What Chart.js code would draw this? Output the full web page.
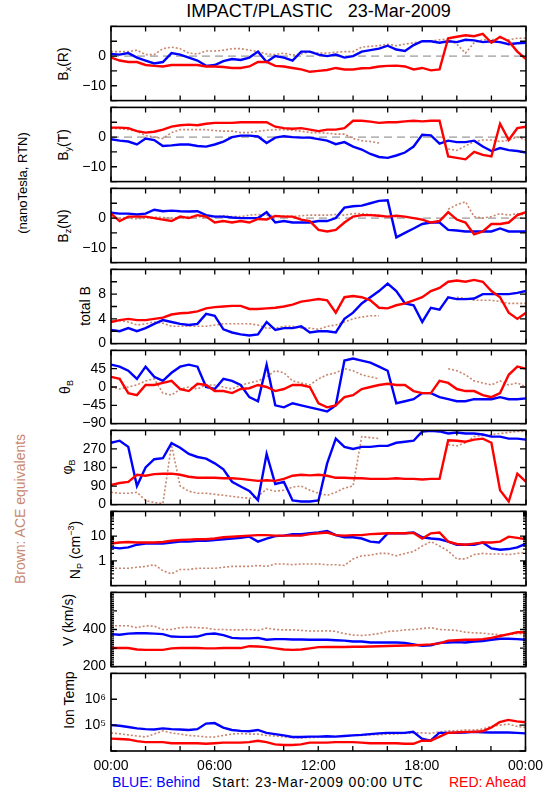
<!DOCTYPE html>
<html><head><meta charset="utf-8">
<script src="https://cdn.jsdelivr.net/npm/chart.js@4.4.1/dist/chart.umd.min.js"></script>
<style>
html,body{margin:0;padding:0;background:#fff;}
body{position:relative;width:550px;height:800px;overflow:hidden;font-family:"Liberation Sans",Arial,sans-serif;color:#000;}
canvas{position:absolute;left:0;}
.txt{position:absolute;white-space:pre;line-height:1;}
.rot{position:absolute;white-space:pre;line-height:1;font-size:14px;transform:translate(-50%,-50%) rotate(-90deg);}
.rot sub{font-size:9px;vertical-align:-3px;}
.rot sup{font-size:9px;vertical-align:6px;}
</style></head><body>
<div class="txt" style="left:0;width:637px;text-align:center;top:2px;font-size:18px;">IMPACT/PLASTIC   23-Mar-2009</div>

<div class="rot" style="left:64px;top:64px">B<sub>x</sub>(R)</div>
<div class="rot" style="left:64px;top:145px">B<sub>y</sub>(T)</div>
<div class="rot" style="left:64px;top:226px">B<sub>z</sub>(N)</div>
<div class="rot" style="left:85px;top:306px">total B</div>
<div class="rot" style="left:66px;top:387px">θ<sub>B</sub></div>
<div class="rot" style="left:68px;top:467px">φ<sub>B</sub></div>
<div class="rot" style="left:76px;top:550px">N<sub>P</sub> (cm<sup>−3</sup>)</div>
<div class="rot" style="left:68px;top:620px">V (km/s)</div>
<div class="rot" style="left:69px;top:700px">Ion Temp</div>
<div class="rot" style="left:22px;top:183px;font-size:13px">(nanoTesla, RTN)</div>
<div class="rot" style="left:20px;top:509px;color:#c8876e">Brown: ACE equivalents</div>

<div class="txt" style="left:112px;top:775px;font-size:14px;color:#0000ff">BLUE: Behind</div>
<div class="txt" style="left:212px;top:775px;font-size:14px;letter-spacing:0.8px">Start: 23-Mar-2009 00:00 UTC</div>
<div class="txt" style="left:376px;width:150px;text-align:right;top:775px;font-size:14px;color:#ff0000">RED: Ahead</div>

<script>
// ---------- data (hours since 23-Mar-2009 00:00 UTC) ----------
const hours = [0,0.5,1,1.5,2,2.5,3,3.5,4,4.5,5,5.5,6,6.5,7,7.5,8,8.5,9,9.5,10,10.5,11,11.5,12,12.5,13,13.5,14,14.5,15,15.5,16,16.5,17,17.5,18,18.5,19,19.5,20,20.5,21,21.5,22,22.5,23,23.5,24];

const bxBlue  = [0.7,0.5,1.0,-0.5,-1.5,-2.5,-2,1.0,0.5,-0.5,-1.5,-3.3,-3,-1.7,-1,-1.3,-0.5,1.5,-2, 0,-0.5,-1.5,1.5,1.5,0.5,0,0.5,-0.5,0,1.5,2,2.5,3.5,2.2,1.7,3.7,5,5,4.5,5,4.7,5.5,5.3,4.7,5,4.7,4,4.3,4.5];
const bxRed   = [-0.5,-1.5,-2,-2,-3,-3.3,-3.5,-3,-3,-3,-3,-3.5,-3.5,-3.7,-4,-4,-3.5,-2,-2, -3.3,-3.5,-4,-4.5,-5.3,-5,-4.7,-4,-4.5,-4.5,-4.1,-4,-3.5,-3.3,-3.2,-3.5,-4.5,-4,-4.8,-4.5,6,6.5,7,6.7,7.5,4.5,6.5,5,1.5,-1];
const bxBrown = [1.5,1.5,1.5,2,0.5,0.5,2.5,3,2.5,1,0.7,1.7,1.7,2,2.5,2.5,2,1.5,0.7, 0.5,1,0.3,0.7,1.5,1,1,1.3,1.5,1.5,3,3.3,3.5,4,3.5,4,4.5,5,5,5.5,5.7,4,1,4.5,5.5,5.5,6,5.5,6,6];

const byBlue  = [-0.7,-1.2,-1.5,-2.5,-0.5,-1.0,-3.0,-2.8,-2.5,-2.5,-3.0,-3.2,-2.5,-1.5,0,0.5,0.5,0.2,-2.0, -0.2,0.3,0,-0.2,-0.2,-0.7,-1.2,-2.4,-1.7,-3.2,-4.2,-5.7,-6.7,-7,-6.2,-5.2,-3.2,0.8,0.6,-2.2,-1.2,-1.7,-1.7,-1.2,-3.2,-4.7,-3.7,-4.4,-4.7,-5.2];
const byRed   = [3.2,3.2,3.0,2.0,1.5,1.8,2.5,3.5,4.0,4.2,4.0,4.5,4.8,4.8,4.8,5.0,5.0,5.0,5.0, 3.5,3.0,2.8,3.0,2.5,2.0,2.5,2.5,3.0,5.5,5.5,5.2,4.8,5.0,5.0,5.3,5.5,5.3,5.5,5.5,-6.5,-7,-7.5,-5,-6,-6.5,4.5,-1,3,3.5];
const byBrown = [3.0,2.8,2.5,2.0,0.5,0,-0.5,1.5,2.5,2.5,2.5,2.5,2.2,2.0,2.0,1.5,1.5,2.0,2.3, 2.5,2.5,2.3,2.0,1.5,1.5,1.3,1.0,1.0,-0.5,-1.2,-1.5,-2.0,null,null,null,null,null,null,null,-4,-4.5,-3,-1.5,-1,-1,-1.5,-1,0,-1];

const bzBlue  = [1.8,1.5,1.5,1.2,1.5,2.8,2.3,2.5,2.3,2.2,2.3,1.0,0.5,0.5,0.2,0,0,0,2.0, -1.5,-1,-1.5,-1.5,-1.5,-1,-1,0,3.5,4,4.2,5,5.8,6,-6.5,-5,-3.5,-2,-1.5,-1.5,-4,-4.2,-4.5,-4.5,-4.5,-4.5,-3.5,-4.5,-4.5,-4.5];
const bzRed   = [1.5,-1,0.5,0.5,0.5,0,-0.5,-1,0.5,0,1,0.5,-1.5,-1,-1.5,-1,-1.5,-0.3,-0.5, 0.7,0.5,0.5,-0.5,-1,-4,-4.5,-4,-1.5,0.5,1,1,0.8,0.5,0.8,0.5,0,-0.5,-1.5,-1,2,-0.5,-1.5,-5.5,-4.5,-2,-2,-1.5,1,2];
const bzBrown = [0.2,0,0,-0.3,0,0.3,0.2,0,0.3,0.5,0.5,0.2,0.5,0.8,0.5,0.5,1.0,1.2,1.0, 0.8,0.8,0.5,0.8,1,1,1,1.2,1,1.5,1.5,1.2,1,null,null,null,null,null,null,null,3,4.5,5.5,0.5,0,0.5,1.5,1,1.5,1];

const btBlue  = [2.2,2.0,2.5,2.0,2.5,3.2,3.8,3.5,3.2,3.0,3.2,4.8,4.5,2.3,1.8,1.5,1.3,1.5,3.5, 2.2,2.5,2.5,2.8,1.8,2,2,1.8,4,5,6.5,7.5,8.5,9.7,8.5,6.5,6.2,3.5,5.8,5.5,7.5,7.2,7.2,7.3,8,8,8,8,8.2,8.5];
const btRed   = [3.5,3.8,4.0,3.8,3.8,4.0,4.2,4.7,4.9,5.0,5.2,5.7,5.9,6.0,6.1,6.1,5.6,5.6,5.7, 5.8,6,6.3,6.8,7,7.2,7,5,7.5,7.7,7.5,7,5.8,5.7,6.2,6.5,7,7.5,8.5,9,10,10.2,10,10.3,10,8.5,7.5,5,4,5];
const btBrown = [3.7,3.7,3.5,3.0,3.2,3.5,3.3,2.8,2.8,2.8,2.8,2.8,3.0,3.2,3.2,3.2,3.2,3.0,2.5, 2.5,2.8,2.8,2.5,2.5,2.3,2.8,3,3.5,4,4.3,4.5,4.5,null,null,null,null,null,null,null,null,7.5,7.3,7,7,7,6.8,6.5,6.5,6.5];

const thBlue  = [55,50,40,20,50,25,15,35,50,55,50,0,-5,20,15,5,-25,-35,55, -45,-50,-40,-45,-50,-55,-60,-45,65,70,65,60,50,40,-40,-35,-30,-15,-15,-25,-30,-35,-35,-30,-30,-30,-25,-30,-30,-28];
const thRed   = [25,20,-15,-20,5,5,10,15,-5,-10,8,5,-10,-10,-15,-5,-3,5,0, -10,-5,5,5,0,-40,-50,-45,-25,-20,-5,0,5,8,5,5,-10,-15,-15,15,10,-5,-10,-10,-20,-25,-15,30,50,45];
const thBrown = [0,-5,0,5,15,20,-15,-20,-5,0,-5,5,5,0,-5,5,10,15,25, 40,35,15,10,5,20,30,35,45,40,30,25,20,null,null,null,null,null,null,null,45,40,30,15,10,5,15,5,10,0];

const phBlue  = [300,310,280,90,180,220,225,298,276,246,231,223,200,171,111,88,66,21,246, 100,110,20,15,15,20,200,320,280,270,280,280,285,285,300,305,310,355,358,355,345,350,345,345,340,330,330,320,320,315];
const phRed   = [95,105,110,145,140,148,150,150,145,135,130,130,130,128,128,125,120,115,118, 115,125,140,145,142,145,140,130,130,128,128,125,125,125,128,125,125,122,125,125,312,310,305,315,320,300,70,15,150,110];
const phBrown = [60,55,55,60,20,10,5,290,90,65,55,55,50,45,40,35,30,40,75, 65,70,85,90,70,55,45,60,80,90,330,325,320,null,null,null,null,null,null,null,290,285,300,330,335,340,345,350,355,355];

const npBlue  = [3.5,3.2,3.5,4.5,5,5,5,5.5,6,6,6.5,6.5,7,7.5,8,8.5,9.5,6,8, 10,10.5,12,12,13,14,16,11,9,9,8,6,5.5,13,13,13,14,9,8,7.5,6,4.5,4.5,4.5,5.5,3.2,2.8,3,3.5,5];
const npRed   = [5,5.5,5.8,5.5,5.5,5.5,5.8,6.5,7,7.2,7.5,7.5,8,9,9.5,10,10.5,11,11, 10.5,10.5,10.5,10.5,12,13,14,11,10.5,11,11,12,12.5,13,13,13,13.5,8,13,14,6,4.8,4.5,5,5.5,5.5,6,9.5,8.5,7.5];
const npBrown = [0.5,0.5,0.5,0.55,0.6,0.7,0.4,0.3,0.45,0.45,0.5,0.5,0.5,0.55,0.6,0.6,0.6,0.65,0.6, 0.75,0.75,0.7,0.75,0.75,0.75,0.7,0.7,0.65,1.2,1.6,1.7,2.0,2.0,1.6,2.0,2.4,4,6,4,2.5,1.2,1.2,1.8,2,1.9,1.9,1.8,2,2.2];

const vBlue   = [375,372,378,380,380,378,375,362,360,360,362,375,378,370,355,352,352,355,345, 348,348,346,346,345,345,345,342,340,335,335,330,330,330,330,328,320,312,315,328,330,332,330,335,338,345,350,350,348,345];
const vRed    = [300,300,300,292,290,290,290,298,300,300,300,298,298,300,300,300,310,308,305, 298,292,290,292,298,305,306,306,306,307,307,308,310,311,312,314,315,317,320,325,340,342,345,345,348,355,365,375,385,385];
const vBrown  = [420,420,420,410,420,418,400,400,410,412,410,408,400,400,398,398,400,395,408, 400,398,398,395,392,392,393,390,378,370,368,372,378,390,392,398,400,405,410,400,398,395,385,382,380,375,372,372,378,375];

const tBlue   = [1.0e5,9.5e4,8.5e4,7.5e4,7e4,6.8e4,7.5e4,7e4,6.8e4,6.5e4,7e4,1.15e5,1.2e5,8e4,6.5e4,6e4,5.8e4,6.5e4,5e4, 4.5e4,4e4,3.5e4,3.5e4,3.6e4,3.6e4,3.7e4,3.6e4,3.8e4,4e4,4.2e4,4.5e4,4.8e4,5e4,5e4,5e4,5.5e4,3e4,2.5e4,5e4,5e4,5e4,5.2e4,5.5e4,5.3e4,5.2e4,5.2e4,5.2e4,5e4,4.8e4];
const tRed    = [3e4,2.9e4,2.8e4,2.4e4,2.2e4,2.2e4,2.2e4,2e4,2e4,2e4,2e4,1.9e4,2e4,2.1e4,2.1e4,2.1e4,2.2e4,2.5e4,2.2e4, 1.8e4,1.7e4,1.7e4,1.8e4,2.1e4,2.1e4,2.1e4,2.2e4,2.2e4,2.2e4,2.1e4,2e4,2e4,2e4,2e4,1.9e4,1.9e4,2.5e4,2.5e4,3.5e4,5e4,5.2e4,5.5e4,5.5e4,5.8e4,8e4,1.3e5,1.6e5,1.4e5,1.3e5];
const tBrown  = [5e4,4.6e4,4.2e4,3.8e4,3.5e4,4.5e4,6e4,5e4,4.5e4,4e4,3.8e4,3.5e4,3.5e4,4e4,4.5e4,4.8e4,4.5e4,4.5e4,4e4, 3.8e4,3.5e4,3.3e4,3.2e4,3.3e4,3.4e4,3.5e4,3.7e4,3.8e4,4e4,4e4,4.2e4,4.3e4,4.5e4,4.5e4,4.8e4,5e4,5e4,4.8e4,5.5e4,6e4,6e4,6.5e4,6.5e4,7e4,9e4,1e5,1.1e5,9e4,8e4];

const zeroHours = [0, 24];
const zeroLevel = [0, 0];

// ---------- axes ----------
const xTickHours  = [0,2,4,6,8,10,12,14,16,18,20,22,24];
const xLabelHours = [0,6,12,18,24];
const xLabelText  = ['00:00','06:00','12:00','18:00','00:00'];

const bTicks = [-15,-10,-5,0,5,10];      const bLabelVals = [0,-10];       const bLabelText = ['0','\u221210'];
const btTicks = [0,2,4,6,8,10,12];      const btLabelVals = [0,4,8];      const btLabelText = ['0','4','8'];
const thTicks = [-90,-45,0,45,90];      const thLabelVals = [-90,-45,0,45]; const thLabelText = ['\u221290','\u221245','0','45'];
const phTicks = [0,90,180,270,360];     const phLabelVals = [0,90,180,270]; const phLabelText = ['0','90','180','270'];
const npTicks = [0.1,1,10,100];         const npLabelVals = [1,10];       const npLabelText = ['1','10'];
const vTicks = [200,300,400,500,600];   const vLabelVals = [200,400];     const vLabelText = ['200','400'];
const tTicks = [1e4,1e5,1e6,1e7];       const tLabelVals = [1e5,1e6];     const tLabelText = ['10\u2075','10\u2076'];

function logMinor(lo, hi){ const out=[]; for(let d=lo; d<hi; d*=10){ for(let k=2;k<=9;k++) out.push(d*k); } return out; }
function linMinor(lo, hi, step){ const out=[]; for(let v=lo; v<=hi+1e-9; v+=step) out.push(v); return out; }

const BLUE='#0000ff', RED='#ff0000', BROWN='#c8876e';
const FONT = '"Liberation Sans", Arial, sans-serif';

const panels = [
  {top:23,  bottom:104, min:-15, max:10,  ticks:bTicks,  lv:bLabelVals,  lt:bLabelText,  blue:bxBlue, red:bxRed, brown:bxBrown, zero:true},
  {top:104, bottom:185, min:-15, max:10,  ticks:bTicks,  lv:bLabelVals,  lt:bLabelText,  blue:byBlue, red:byRed, brown:byBrown, zero:true},
  {top:185, bottom:266, min:-15, max:10,  ticks:bTicks,  lv:bLabelVals,  lt:bLabelText,  blue:bzBlue, red:bzRed, brown:bzBrown, zero:true},
  {top:266, bottom:347, min:0,   max:12,  ticks:btTicks, lv:btLabelVals, lt:btLabelText, blue:btBlue, red:btRed, brown:btBrown},
  {top:347, bottom:427, min:-90, max:90,  ticks:thTicks, lv:thLabelVals, lt:thLabelText, blue:thBlue, red:thRed, brown:thBrown},
  {top:427, bottom:508, min:0,   max:360, ticks:phTicks, lv:phLabelVals, lt:phLabelText, blue:phBlue, red:phRed, brown:phBrown},
  {top:508, bottom:589, min:0.1, max:100, ticks:npTicks, lv:npLabelVals, lt:npLabelText, blue:npBlue, red:npRed, brown:npBrown, log:true, minor:logMinor(0.1,100)},
  {top:589, bottom:670, min:200, max:600, ticks:vTicks,  lv:vLabelVals,  lt:vLabelText,  blue:vBlue,  red:vRed,  brown:vBrown, minor:linMinor(200,600,10)},
  {top:670, bottom:751, min:1e4, max:1e7, ticks:tTicks,  lv:tLabelVals,  lt:tLabelText,  blue:tBlue,  red:tRed,  brown:tBrown, log:true}
];

const frameTicks = {
  id:'frameTicks',
  afterDraw(chart, args, o){
    const {ctx, chartArea:a} = chart; const sx = chart.scales.x, sy = chart.scales.y;
    ctx.save(); ctx.strokeStyle='#000'; ctx.lineWidth=1.3; ctx.beginPath();
    const seg=(x1,y1,x2,y2)=>{ctx.moveTo(x1,y1);ctx.lineTo(x2,y2);};
    for (const h of o.xTicks){ const px=sx.getPixelForValue(h); seg(px,a.top,px,a.top+5); seg(px,a.bottom,px,a.bottom-5); }
    for (const v of o.yMajor){ const py=sy.getPixelForValue(v); seg(a.left,py,a.left+6,py); seg(a.right,py,a.right-6,py); }
    for (const v of (o.yMinor||[])){ const py=sy.getPixelForValue(v); seg(a.left,py,a.left+3,py); seg(a.right,py,a.right-3,py); }
    ctx.stroke();
    ctx.lineWidth=1.6; ctx.strokeRect(a.left,a.top,a.right-a.left,a.bottom-a.top);
    ctx.restore();
  }
};

const pts = (ys, xs) => (xs||hours).map((h,i)=>({x:h, y:ys[i]}));

panels.forEach((p, idx) => {
  const isBottom = idx === panels.length-1;
  const PAD = 10, XH = 30;
  const h = p.bottom - p.top;
  const cv = document.createElement('canvas');
  cv.width = 550; cv.height = PAD + h + (isBottom ? XH : PAD);
  cv.style.top = (p.top - PAD) + 'px';
  document.body.appendChild(cv);

  const datasets = [
    {data:pts(p.red),   borderColor:RED,   borderWidth:2.4, order:0},
    {data:pts(p.blue),  borderColor:BLUE,  borderWidth:2.4, order:1},
    {data:pts(p.brown), borderColor:BROWN, borderWidth:1.6, borderDash:[2,2], order:2}
  ];
  if (p.zero) datasets.push({data:pts(zeroLevel, zeroHours), borderColor:'#808080', borderWidth:1, borderDash:[8,5], order:3});

  new Chart(cv, {
    type:'line',
    data:{datasets},
    options:{
      responsive:false, animation:false, devicePixelRatio:1,
      layout:{autoPadding:false, padding:{left:0, right:24, top:PAD, bottom:isBottom?0:PAD}},
      elements:{point:{radius:0, hoverRadius:0}, line:{tension:0}},
      plugins:{legend:{display:false}, tooltip:{enabled:false},
               frameTicks:{xTicks:xTickHours, yMajor:p.ticks, yMinor:p.minor}},
      scales:{
        x:{type:'linear', min:0, max:24, display:isBottom,
           grid:{display:false, drawTicks:false}, border:{display:false},
           ticks:{stepSize:6, autoSkip:false, maxRotation:0, padding:7, color:'#000', font:{family:FONT, size:14},
                  callback:(v)=>{ const i = xLabelHours.indexOf(v); return i>=0 ? xLabelText[i] : ''; }},
           afterFit:(s)=>{ s.height = isBottom ? XH : 0; }},
        y:{type:p.log?'logarithmic':'linear', min:p.min, max:p.max,
           grid:{display:false, drawTicks:false}, border:{display:false},
           ticks:{stepSize:p.log?undefined:(p.ticks[1]-p.ticks[0]), autoSkip:false, padding:5, color:'#000', font:{family:FONT, size:14},
                  callback:(v)=>{ const i = p.lv.findIndex(l=>Math.abs(l-v) <= 1e-6*Math.max(1,Math.abs(l))); return i>=0 ? p.lt[i] : ''; }},
           afterFit:(s)=>{ s.width = 111; }}
      }
    },
    plugins:[frameTicks]
  });
});
</script>
</body></html>
